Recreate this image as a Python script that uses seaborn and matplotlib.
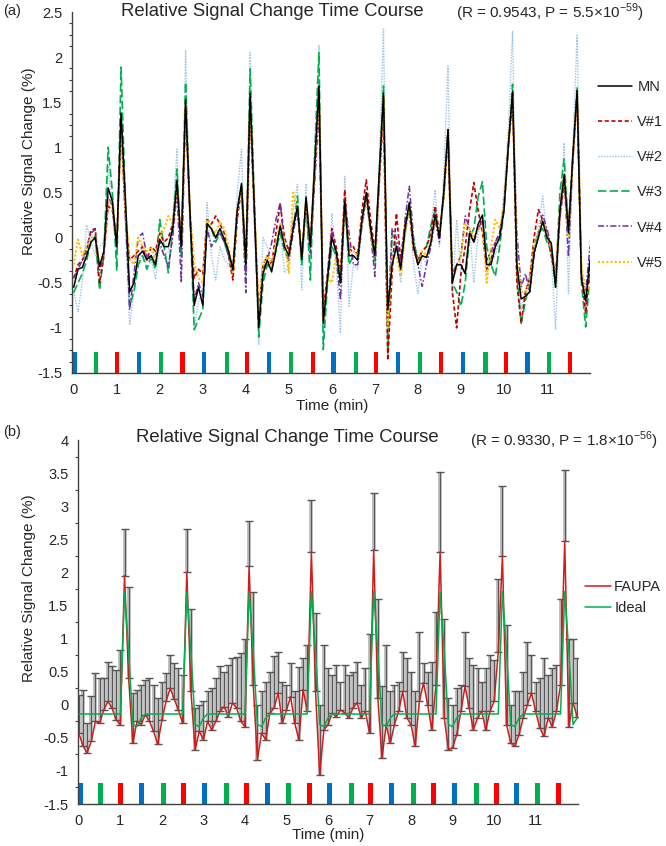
import matplotlib
matplotlib.use('Agg')
import matplotlib.pyplot as plt
import numpy as np
import pandas as pd
import seaborn as sns
from matplotlib.ticker import MultipleLocator

# sampling step of the time courses (min)
TR_MIN = 0.1

# ---- panel (a): relative signal change, mean (MN) and five volunteers ----
mn = [
    -0.55, -0.35, -0.33, -0.20, -0.05, 0.00, -0.32, -0.15, 0.55, 0.40,
    -0.10, 1.38, 0.45, -0.60, -0.50, -0.20, -0.15, -0.24, -0.20, -0.30,
    -0.02, -0.10, -0.10, 0.10, 0.63, -0.10, 1.53, 0.30, -0.75, -0.55,
    -0.75, 0.15, 0.10, 0.00, 0.10, -0.02, -0.15, -0.36, 0.30, 0.60,
    -0.30, 1.60, 0.30, -1.00, -0.40, -0.25, -0.38, -0.13, 0.13, -0.10,
    -0.20, 0.10, 0.35, -0.24, 0.45, -0.10, 0.80, 1.68, -0.95, -0.45,
    0.00, -0.15, -0.50, 0.40, -0.20, -0.20, -0.25, 0.20, 0.50, 0.10,
    -0.20, 0.70, 1.60, -0.80, -0.30, -0.10, -0.35, 0.10, 0.39, -0.10,
    -0.30, -0.20, -0.22, -0.06, 0.25, 0.00, 0.50, 1.20, -0.50, -0.30,
    -0.30, -0.40, 0.05, -0.05, 0.15, 0.25, -0.30, -0.30, -0.10, 0.00,
    0.30, 1.00, 1.62, -0.30, -0.68, -0.65, -0.60, -0.17, 0.00, 0.18,
    0.00, -0.06, -0.55, 0.30, 0.70, 0.05, 0.90, 1.63, -0.45, -0.70,
    -0.25]
v1 = [
    -0.45, -0.30, -0.25, -0.15, 0.08, 0.10, -0.50, -0.20, 0.35, 0.30,
    -0.05, 1.24, 0.25, -0.25, -0.20, -0.15, -0.10, -0.25, -0.10, -0.15,
    0.05, -0.05, 0.00, 0.15, 0.55, -0.05, 1.45, 0.30, -0.45, -0.35,
    -0.40, 0.20, 0.15, 0.24, 0.15, 0.05, -0.20, -0.47, 0.20, 0.55,
    -0.20, 1.50, 0.30, -0.84, -0.30, -0.20, -0.30, 0.05, 0.37, 0.00,
    -0.15, 0.15, 0.30, -0.20, 0.40, -0.05, 0.70, 1.60, -0.80, -0.40,
    0.10, -0.10, -0.40, 0.53, -0.15, -0.10, -0.20, 0.30, 0.64, 0.20,
    -0.15, 0.60, 1.42, -1.36, -0.40, 0.27, -0.25, 0.15, 0.30, -0.15,
    -0.25, -0.15, -0.10, 0.05, 0.35, 0.05, 0.45, 1.12, -0.60, -1.00,
    -0.40, -0.10, 0.30, 0.61, 0.30, 0.05, -0.35, -0.25, -0.05, 0.05,
    0.35, 1.00, 1.60, -0.50, -0.95, -0.60, -0.45, 0.00, 0.31, 0.20,
    0.05, -0.20, -0.43, 0.25, 0.60, 0.10, 0.85, 1.60, -0.40, -0.84,
    -0.30]
v2 = [
    -0.60, -0.82, -0.50, 0.14, -0.05, -0.20, -0.10, -0.05, 0.80, 0.30,
    -0.20, 1.30, 0.20, -0.97, -0.60, -0.30, -0.10, -0.35, -0.25, -0.45,
    -0.10, -0.20, -0.15, 0.20, 0.98, -0.40, 2.07, 0.20, -1.02, -0.70,
    -0.60, 0.39, -0.20, -0.47, -0.10, -0.24, -0.30, -0.40, 0.50, 0.98,
    -0.50, 2.05, 0.20, -1.19, 0.00, -0.10, -0.30, -0.10, 0.10, -0.39,
    -0.30, 0.30, 0.59, -0.58, 0.60, -0.30, 1.00, 2.13, -1.13, -0.50,
    0.27, -0.30, -1.06, 0.68, -0.76, -0.30, -0.35, 0.10, 0.42, 0.10,
    -0.21, 0.80, 2.31, -1.06, -0.20, -0.05, -0.50, 0.00, 0.35, -0.30,
    -0.62, -0.20, -0.30, 0.10, 0.53, -0.10, 0.70, 1.90, -0.65, 0.20,
    -0.40, -0.35, 0.10, -0.50, 0.05, 0.20, -0.40, -0.25, -0.20, 0.00,
    0.50, 1.20, 2.29, -0.30, -0.80, -0.60, -0.40, -0.10, 0.10, 0.46,
    0.00, -0.20, -1.02, 0.30, 1.05, -0.62, 1.00, 2.24, -0.30, -0.84,
    -0.02]
v3 = [
    -0.61, -0.50, -0.40, -0.25, -0.05, 0.02, -0.58, -0.20, 1.00, 0.50,
    -0.36, 1.89, 0.40, -0.76, -0.60, -0.30, -0.20, -0.35, -0.20, -0.35,
    0.20, -0.10, -0.39, 0.10, 0.76, -0.20, 1.72, 0.30, -1.02, -0.91,
    -0.80, 0.16, 0.10, -0.05, 0.05, -0.05, -0.20, -0.39, 0.30, 0.57,
    -0.40, 1.87, 0.40, -1.10, -0.50, -0.30, -0.35, -0.15, 0.05, -0.15,
    -0.25, 0.10, 0.46, -0.30, 0.40, -0.47, 0.90, 2.05, -1.24, -0.50,
    -0.10, -0.20, -0.50, 0.42, -0.30, -0.20, -0.20, 0.15, 0.45, 0.10,
    -0.28, 0.70, 1.68, -1.28, 0.05, -0.10, -0.30, 0.05, 0.35, -0.05,
    -0.25, -0.15, -0.10, 0.13, 0.30, 0.00, 0.45, 1.16, -0.50, -0.60,
    -0.76, -0.50, 0.00, 0.10, 0.45, 0.62, -0.10, -0.30, -0.43, -0.10,
    0.30, 1.00, 1.70, -0.40, -0.95, -0.70, -0.50, -0.10, 0.05, 0.10,
    -0.05, -0.15, -0.55, 0.50, 0.87, 0.10, 0.90, 1.66, -0.50, -0.99,
    -0.39]
v4 = [
    -0.45, -0.35, -0.25, -0.10, 0.05, 0.09, -0.36, -0.20, 0.45, 0.35,
    -0.10, 1.30, 0.25, -0.80, -0.40, 0.00, 0.05, -0.20, -0.25, -0.20,
    -0.05, -0.20, -0.32, 0.00, 0.50, -0.50, 1.40, 0.25, -0.70, -0.50,
    -0.65, 0.10, -0.10, 0.00, 0.05, -0.05, -0.20, -0.30, 0.30, 0.55,
    -0.61, 1.40, 0.20, -0.95, -0.35, -0.25, -0.06, 0.20, 0.39, -0.10,
    -0.25, 0.05, 0.30, -0.20, 0.35, -0.17, 0.60, 1.40, -0.90, -0.40,
    0.07, -0.20, -0.69, 0.40, 0.05, -0.30, -0.30, 0.15, 0.45, 0.05,
    -0.43, 0.60, 1.55, -0.90, 0.10, 0.00, -0.30, 0.20, 0.57, 0.00,
    -0.30, -0.54, -0.30, -0.10, 0.20, -0.05, 0.50, 1.20, -0.40, -0.30,
    -0.20, 0.24, 0.10, -0.05, 0.10, 0.20, -0.25, -0.15, -0.05, 0.05,
    0.30, 1.00, 1.50, 0.05, -0.55, -0.40, -0.60, -0.20, 0.05, 0.25,
    0.10, -0.10, -0.45, 0.20, 0.65, -0.21, 0.85, 1.55, -0.40, -0.60,
    -0.10]
v5 = [
    -0.30, -0.02, -0.20, -0.10, 0.00, 0.00, -0.30, -0.15, 0.40, 0.40,
    -0.05, 1.20, 0.30, -0.24, -0.30, 0.00, -0.10, -0.15, -0.10, -0.25,
    0.00, 0.10, 0.24, 0.15, 0.55, 0.00, 1.45, 0.30, -0.28, -0.45,
    -0.50, 0.20, 0.10, 0.05, 0.18, 0.10, -0.10, -0.40, 0.30, 0.55,
    -0.25, 1.50, 0.30, -0.80, -0.30, -0.20, -0.30, -0.05, 0.15, -0.05,
    -0.39, 0.50, 0.30, -0.20, 0.40, -0.05, 0.80, 1.60, -0.90, -0.45,
    -0.50, -0.20, -0.45, 0.35, -0.15, -0.15, -0.20, 0.20, 0.45, 0.05,
    -0.20, 0.65, 1.55, -1.00, -0.20, -0.20, -0.43, 0.05, 0.35, -0.10,
    -0.30, -0.15, -0.20, -0.05, 0.20, 0.05, 0.45, 1.15, -0.45, -0.35,
    -0.20, 0.16, 0.10, 0.00, 0.10, 0.10, -0.50, -0.10, 0.20, 0.10,
    0.35, 1.00, 1.55, -0.20, -0.60, -0.60, -0.50, -0.10, 0.05, 0.20,
    0.00, -0.10, -0.45, 0.35, 0.70, 0.00, 0.90, 1.60, -0.30, -0.60,
    -0.54]

# ---- panel (b): FAUPA mean with upper error, and ideal response ----
faupa = [
    -0.43, -0.62, -0.73, -0.55, -0.25, -0.28, -0.08, 0.05, -0.05, -0.23,
    -0.30, 1.95, 0.40, -0.58, -0.25, -0.30, -0.15, -0.25, -0.40, -0.60,
    -0.23, 0.05, 0.25, 0.08, -0.08, -0.28, 2.00, 0.20, -0.68, -0.40,
    -0.53, -0.25, -0.38, -0.25, -0.10, -0.03, -0.18, 0.03, -0.05, -0.25,
    -0.33, 2.09, 0.30, -0.83, -0.43, -0.53, -0.13, -0.05, 0.18, -0.28,
    -0.08, 0.12, -0.28, -0.53, 0.23, -0.10, 2.31, 0.20, -1.06, -0.38,
    -0.30, -0.13, -0.18, -0.08, -0.12, -0.20, -0.05, 0.03, -0.20, -0.10,
    -0.43, 2.34, 0.10, -0.81, -0.30, -0.58, -0.30, -0.10, 0.20, -0.20,
    -0.30, -0.63, 0.05, 0.33, 0.00, -0.38, 0.30, 2.31, -0.20, -0.68,
    -0.65, -0.45, -0.10, 0.28, -0.05, -0.38, -0.20, -0.10, -0.38, -0.10,
    0.05, 0.80, 2.25, -0.30, -0.58, -0.63, -0.45, -0.20, 0.00, 0.18,
    -0.10, -0.35, -0.48, -0.20, -0.33, -0.10, 0.30, 2.47, -0.33, 0.03,
    -0.18]
faupa_err = [
    0.58, 0.85, 0.45, 0.68, 0.73, 0.68, 0.48, 0.60, 0.63, 0.75,
    1.13, 0.71, 1.38, 0.75, 0.48, 0.60, 0.53, 0.65, 0.70, 0.70,
    0.58, 0.43, 0.50, 0.55, 0.63, 0.73, 0.66, 1.25, 0.63, 0.40,
    0.58, 0.45, 0.63, 0.65, 0.68, 0.53, 0.78, 0.67, 0.77, 1.03,
    1.33, 0.68, 1.40, 0.83, 0.63, 0.88, 0.63, 0.78, 0.62, 0.63,
    0.38, 0.51, 0.48, 1.10, 0.47, 1.00, 0.78, 1.18, 1.06, 1.28,
    0.85, 0.58, 0.78, 0.43, 0.72, 0.65, 0.55, 0.62, 0.50, 0.65,
    1.50, 0.86, 1.50, 1.10, 1.20, 0.78, 0.60, 0.45, 0.60, 0.90,
    0.80, 0.83, 1.05, 0.30, 0.50, 1.03, 1.10, 1.21, 1.50, 0.78,
    0.65, 0.70, 0.40, 0.82, 0.75, 0.98, 0.75, 0.45, 0.93, 0.85,
    0.63, 1.10, 1.06, 1.50, 0.58, 0.83, 0.65, 0.70, 0.95, 0.57,
    0.45, 0.75, 1.18, 0.65, 0.88, 0.70, 1.30, 1.08, 1.33, 0.97,
    0.88]
ideal = [
    -0.14, -0.14, -0.14, -0.14, -0.14, -0.14, -0.14, -0.14, -0.14, -0.14,
    -0.14, 1.71, 0.80, -0.30, -0.33, -0.20, -0.14, -0.14, -0.14, -0.14,
    -0.14, -0.14, -0.14, -0.14, -0.14, -0.14, 1.71, 0.80, -0.30, -0.33,
    -0.20, -0.14, -0.14, -0.14, -0.14, -0.14, -0.14, -0.14, -0.14, -0.14,
    -0.14, 1.71, 0.80, -0.30, -0.33, -0.20, -0.14, -0.14, -0.14, -0.14,
    -0.14, -0.14, -0.14, -0.14, -0.14, -0.14, 1.71, 0.80, -0.30, -0.33,
    -0.20, -0.14, -0.14, -0.14, -0.14, -0.14, -0.14, -0.14, -0.14, -0.14,
    -0.14, 1.71, 0.80, -0.30, -0.33, -0.20, -0.14, -0.14, -0.14, -0.14,
    -0.14, -0.14, -0.14, -0.14, -0.14, -0.14, -0.14, 1.71, 0.80, -0.30,
    -0.33, -0.20, -0.14, -0.14, -0.14, -0.14, -0.14, -0.14, -0.14, -0.14,
    -0.14, -0.14, 1.71, 0.80, -0.30, -0.33, -0.20, -0.14, -0.14, -0.14,
    -0.14, -0.14, -0.14, -0.14, -0.14, -0.14, -0.14, 1.71, 0.80, -0.30,
    -0.20]

# stimulus onsets (min) and their type
stim_t = [0.03, 0.52, 1.01, 1.52, 2.03, 2.53, 3.03, 3.56, 4.03, 4.54, 5.05, 5.56,
          6.04, 6.56, 7.03, 7.54, 8.05, 8.53, 9.05, 9.57, 10.05, 10.55, 11.04, 11.54]
stim_kind = ['B', 'G', 'R'] * 8
stim_cores = {'B': '#0070c0', 'G': '#00b050', 'R': '#ff0000'}

x_ticks = list(range(13))
x_tick_labels = [str(i) for i in range(12)] + ['']

t = np.arange(len(mn)) * TR_MIN
df_a = pd.DataFrame({'t': t, 'MN': mn, 'V#1': v1, 'V#2': v2,
                     'V#3': v3, 'V#4': v4, 'V#5': v5})
df_b = pd.DataFrame({'t': t, 'FAUPA': faupa, 'err': faupa_err, 'Ideal': ideal})

sns.set_style('white')
plt.rcParams['font.family'] = ['Liberation Sans', 'DejaVu Sans']
plt.rcParams['mathtext.fontset'] = 'custom'
plt.rcParams['mathtext.rm'] = 'Liberation Sans'
plt.rcParams['axes.linewidth'] = 1.0
plt.rcParams['axes.edgecolor'] = '#404040'

W, H = 666, 846
fig = plt.figure(figsize=(W / 100, H / 100), dpi=100)


def _eixo(esq, topo, dir_, base):
    return fig.add_axes([esq / W, 1 - base / H, (dir_ - esq) / W, (base - topo) / H])


def _estilo(eixo, ymin, ymax, menor):
    eixo.set_xlim(-0.04, 12.0)
    eixo.set_ylim(ymin, ymax)
    eixo.set_xticks(x_ticks)
    eixo.set_xticklabels(x_tick_labels)
    eixo.yaxis.set_major_locator(MultipleLocator(0.5))
    eixo.yaxis.set_minor_locator(MultipleLocator(menor))
    eixo.yaxis.set_major_formatter(plt.FuncFormatter(lambda v, p: f'{v:g}'))
    eixo.tick_params(axis='both', which='major', direction='out', length=4,
                     width=1, color='#404040', labelsize=10.5, pad=3)
    eixo.tick_params(axis='y', which='minor', direction='out', length=2.5,
                     width=0.8, color='#404040', left=True)
    eixo.tick_params(axis='x', which='major', length=3, pad=4)
    sns.despine(ax=eixo)
    eixo.set_xlabel('')
    eixo.set_ylabel('')


def _estimulos(eixo, altura, largura):
    for ts, k in zip(stim_t, stim_kind):
        eixo.bar(ts, altura, bottom=-1.5, width=largura, color=stim_cores[k],
                 linewidth=0, align='center', zorder=1)


# ---------------- (a) ----------------
ax1 = _eixo(72, 12, 590, 373)
estilos_a = [
    ('MN', 'black', '-', 1.1, 6),
    ('V#1', '#c00000', (0, (2.5, 1.5)), 1.2, 4),
    ('V#2', '#9dc3e6', (0, (1, 1)), 1.0, 2),
    ('V#3', '#00b050', (0, (5, 2)), 1.2, 3),
    ('V#4', '#7030a0', (0, (4, 1.5, 1, 1.5)), 1.1, 4),
    ('V#5', '#ffc000', (0, (1, 1)), 1.5, 5),
]
for nome, cor, ls, lw, z in estilos_a:
    sns.lineplot(data=df_a, x='t', y=nome, ax=ax1, color=cor, linestyle=ls,
                 lw=lw, label=nome, zorder=z)
_estimulos(ax1, 0.23, 0.1)
_estilo(ax1, -1.5, 2.5, 0.125)
ax1.legend(loc='upper left', bbox_to_anchor=(598 / W, 1 - 80 / H),
           bbox_transform=fig.transFigure, frameon=False, fontsize=10.5,
           handlelength=2.3, handletextpad=0.4, labelspacing=1.45,
           borderpad=0, borderaxespad=0)

# ---------------- (b) ----------------
ax2 = _eixo(78, 440, 578, 804)
yerr_b = [np.zeros(len(df_b)), df_b['err']]
# light grey body of each bar, then a thin dark stroke with caps
ax2.errorbar(df_b['t'], df_b['FAUPA'], yerr=yerr_b, fmt='none',
             ecolor='#b4b4b4', elinewidth=2.6, capsize=0, zorder=2)
ax2.errorbar(df_b['t'], df_b['FAUPA'], yerr=yerr_b, fmt='none',
             ecolor='#555555', elinewidth=0.7, capsize=3, capthick=1, zorder=3)
sns.lineplot(data=df_b, x='t', y='FAUPA', ax=ax2, color='#d01c1c', lw=1.1,
             label='FAUPA', zorder=4)
sns.lineplot(data=df_b, x='t', y='Ideal', ax=ax2, color='#00b050', lw=1.1,
             label='Ideal', zorder=5)
_estimulos(ax2, 0.32, 0.12)
_estilo(ax2, -1.5, 4.0, 0.25)
ax2.set_xlim(-0.02, 12.02)
ax2.legend(loc='upper left', bbox_to_anchor=(585 / W, 1 - 580 / H),
           bbox_transform=fig.transFigure, frameon=False, fontsize=10.5,
           handlelength=1.8, handletextpad=0.2, labelspacing=0.5,
           borderpad=0, borderaxespad=0)

# ---------------- texts ----------------
fig.text(3 / W, 1 - 11 / H, '(a)', fontsize=10.5, va='center')
fig.text(272 / W, 1 - 12 / H, 'Relative Signal Change Time Course',
         fontsize=13.3, ha='center', va='center')
fig.text(456 / W, 1 - 13 / H, r'(R = 0.9543, P = 5.5×10$^{\mathregular{-59}}$)',
         fontsize=11, ha='left', va='center')
fig.text(29 / W, 1 - 161 / H, 'Relative Signal Change (%)', fontsize=11,
         rotation=90, ha='center', va='center')
fig.text(332 / W, 1 - 406 / H, 'Time (min)', fontsize=11, ha='center', va='center')

fig.text(3 / W, 1 - 432 / H, '(b)', fontsize=10.5, va='center')
fig.text(287 / W, 1 - 437 / H, 'Relative Signal Change Time Course',
         fontsize=13.3, ha='center', va='center')
fig.text(470 / W, 1 - 441 / H, r'(R = 0.9330, P = 1.8×10$^{\mathregular{-56}}$)',
         fontsize=11, ha='left', va='center')
fig.text(29 / W, 1 - 588 / H, 'Relative Signal Change (%)', fontsize=11,
         rotation=90, ha='center', va='center')
fig.text(328 / W, 1 - 835 / H, 'Time (min)', fontsize=11, ha='center', va='center')

fig.savefig('out.png', dpi=100)
